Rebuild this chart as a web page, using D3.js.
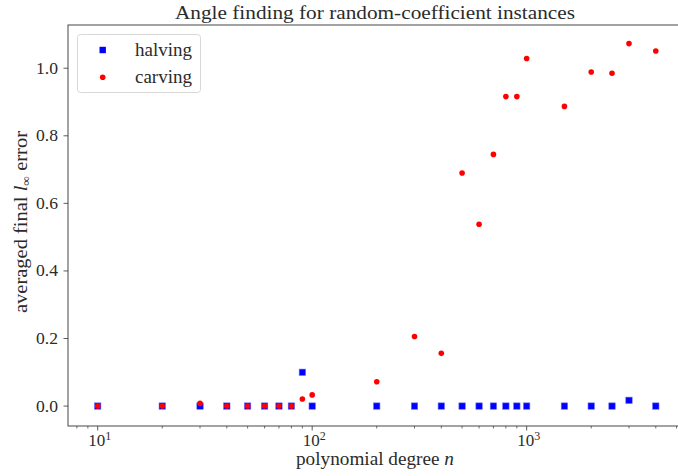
<!DOCTYPE html>
<html>
<head>
<meta charset="utf-8">
<script src="https://cdn.jsdelivr.net/npm/d3@7"></script>
<style>
  body { margin: 0; background: #fff; }
  text { font-family: "Liberation Serif", "DejaVu Serif", serif; fill: #2b2b2b; }
</style>
</head>
<body>
<svg id="chart"></svg>
<script>
const WIDTH = 678;
const HEIGHT = 476;

// data
const degrees = [10, 20, 30, 40, 50, 60, 70, 80, 90, 100, 200, 300, 400, 500, 600, 700, 800, 900, 1000, 1500, 2000, 2500, 3000, 4000];
const halving = [0, 0, 0, 0, 0, 0, 0, 0, 0.100, 0, 0, 0, 0, 0, 0, 0, 0, 0, 0, 0, 0, 0, 0.017, 0];
const carving = [0, 0, 0.008, 0, 0, 0, 0, 0, 0.021, 0.033, 0.072, 0.206, 0.156, 0.690, 0.538, 0.745, 0.916, 0.916, 1.029, 0.887, 0.989, 0.985, 1.073, 1.051];
const yTicks = [0, 0.2, 0.4, 0.6, 0.8, 1.0];
const xMajor = [10, 100, 1000];
const seriesNames = ['halving', 'carving'];

window.onload = function(){
    makeChart();
};

function makeChart(){
    const left = 68, right = 682, top = 25, bottom = 426;

    let svg = d3.select('#chart')
        .attr('width', WIDTH)
        .attr('height', HEIGHT);

    const x = d3.scaleLog().domain([7.27, 5300]).range([left, right]);
    const y = d3.scaleLinear().domain([-0.059, 1.128]).range([bottom, top]);

    // minor ticks on the log axis
    let minor = [];
    [1, 10, 100, 1000].forEach(p => {
        for (let k = 2; k <= 9; k++) {
            let v = k * p;
            if (v >= x.domain()[0] && v <= x.domain()[1]) minor.push(v);
        }
    });

    let axisG = svg.append('g');

    axisG.selectAll('line.minor')
        .data(minor)
        .enter().append('line')
        .attr('x1', d => x(d)).attr('x2', d => x(d))
        .attr('y1', bottom).attr('y2', bottom + 2.5)
        .style('stroke', '#333').style('stroke-width', 0.7);

    axisG.selectAll('line.xmajor')
        .data(xMajor)
        .enter().append('line')
        .attr('x1', d => x(d)).attr('x2', d => x(d))
        .attr('y1', bottom).attr('y2', bottom + 4.5)
        .style('stroke', '#333').style('stroke-width', 0.8);

    let xl = axisG.selectAll('text.xlab')
        .data(xMajor)
        .enter().append('text')
        .attr('x', d => x(d) + 2)
        .attr('y', 446)
        .attr('text-anchor', 'middle')
        .style('font-size', '17px');
    xl.append('tspan').text('10');
    xl.append('tspan').attr('dy', -6).style('font-size', '12px').text(d => Math.round(Math.log10(d)));

    axisG.selectAll('line.ytick')
        .data(yTicks)
        .enter().append('line')
        .attr('x1', left - 4.5).attr('x2', left)
        .attr('y1', d => y(d)).attr('y2', d => y(d))
        .style('stroke', '#333').style('stroke-width', 0.8);

    axisG.selectAll('text.ylab')
        .data(yTicks)
        .enter().append('text')
        .attr('x', 58)
        .attr('y', d => y(d) + 5.5)
        .attr('text-anchor', 'end')
        .attr('textLength', 22)
        .attr('lengthAdjust', 'spacingAndGlyphs')
        .style('font-size', '17px')
        .text(d => d.toFixed(1));

    // frame
    svg.append('rect')
        .attr('x', left).attr('y', top)
        .attr('width', right - left).attr('height', bottom - top)
        .style('fill', 'none').style('stroke', '#333').style('stroke-width', 0.9);

    // markers
    svg.append('g').selectAll('rect')
        .data(degrees.map((d, i) => [d, halving[i]]))
        .enter().append('rect')
        .attr('x', d => x(d[0]) - 3.2)
        .attr('y', d => y(d[1]) - 3.2)
        .attr('width', 6.4).attr('height', 6.4)
        .style('fill', '#0000ff')
        .style('stroke', '#6f6fff').style('stroke-width', 0.6);

    svg.append('g').selectAll('circle')
        .data(degrees.map((d, i) => [d, carving[i]]))
        .enter().append('circle')
        .attr('cx', d => x(d[0]))
        .attr('cy', d => y(d[1]))
        .attr('r', 2.8)
        .style('fill', '#ff0000');

    // legend
    let leg = svg.append('g');
    leg.append('rect')
        .attr('x', 77.5).attr('y', 34.5)
        .attr('width', 123).attr('height', 58)
        .attr('rx', 3)
        .style('fill', 'rgba(255,255,255,0.8)')
        .style('stroke', '#d8d8d8').style('stroke-width', 1);
    leg.append('rect')
        .attr('x', 102.7 - 3.2).attr('y', 50 - 3.2)
        .attr('width', 6.4).attr('height', 6.4)
        .style('fill', '#0000ff');
    leg.append('circle')
        .attr('cx', 102.7).attr('cy', 77.3).attr('r', 2.8)
        .style('fill', '#ff0000');
    leg.selectAll('text')
        .data(seriesNames)
        .enter().append('text')
        .attr('x', 135)
        .attr('y', (d, i) => 55.5 + i * 27)
        .attr('textLength', 57)
        .attr('lengthAdjust', 'spacingAndGlyphs')
        .style('font-size', '18px')
        .text(d => d);

    // titles
    svg.append('text')
        .attr('x', 375).attr('y', 19)
        .attr('text-anchor', 'middle')
        .attr('textLength', 400)
        .attr('lengthAdjust', 'spacingAndGlyphs')
        .style('font-size', '19px')
        .text('Angle finding for random-coefficient instances');

    let xt = svg.append('text')
        .attr('x', 375).attr('y', 465)
        .attr('text-anchor', 'middle')
        .attr('textLength', 158)
        .attr('lengthAdjust', 'spacingAndGlyphs')
        .style('font-size', '18px');
    xt.append('tspan').text('polynomial degree ');
    xt.append('tspan').style('font-style', 'italic').text('n');

    let yt = svg.append('text')
        .attr('transform', 'translate(27,222) rotate(-90)')
        .attr('text-anchor', 'middle')
        .attr('textLength', 182)
        .attr('lengthAdjust', 'spacingAndGlyphs')
        .style('font-size', '18px');
    yt.append('tspan').text('averaged final ');
    yt.append('tspan').style('font-style', 'italic').text('l');
    yt.append('tspan').attr('dy', 3).style('font-size', '12px').text('\u221e');
    yt.append('tspan').attr('dy', -3).text(' error');
}
</script>
</body>
</html>
